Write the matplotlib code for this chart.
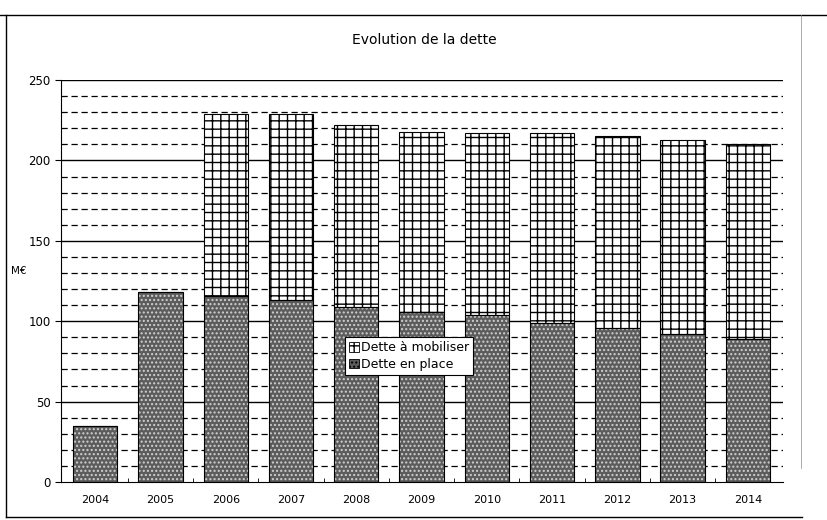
import numpy as np
import matplotlib
matplotlib.use("Agg")
import matplotlib.pyplot as plt
from matplotlib.patches import Rectangle
from matplotlib.lines import Line2D

# data (M€)
years = ["2004", "2005", "2006", "2007", "2008", "2009", "2010", "2011", "2012", "2013", "2014"]
dette_en_place = [35, 118, 116, 113, 109, 106, 104, 99, 96, 92, 89]
dette_totale = [35, 118, 229, 229, 222, 218, 217, 217, 215, 213, 210]
dette_a_mobiliser = [t - p for t, p in zip(dette_totale, dette_en_place)]

plt.rcParams['font.family'] = ['DejaVu Sans']

fig = plt.figure(figsize=(8.27, 5.2), dpi=100)
ax = fig.add_axes([0.074, 0.073, 0.873, 0.773])

x = np.arange(len(years))
w = 0.68

# grid: dashed every 10, solid every 50
for v in range(10, 251, 10):
    if v % 50 == 0:
        ax.axhline(v, color="black", lw=1.0, zorder=0)
    else:
        ax.axhline(v, color="black", lw=0.9, ls=(0, (5, 3)), zorder=0)

# bottom segment: speckled grey
ax.bar(x, dette_en_place, w, color="#5c5c5c", edgecolor="#d0d0d0",
       hatch="....", lw=0, zorder=2)
ax.bar(x, dette_en_place, w, fill=False, edgecolor="black", lw=0.8, zorder=3)

# top segment: grid pattern
ax.bar(x, dette_a_mobiliser, w, bottom=dette_en_place, color="white",
       edgecolor="black", hatch="++", lw=0.8, zorder=2)

ax.set_xlim(-0.52, len(years) - 0.46)
ax.set_ylim(0, 250)
ax.set_yticks(range(0, 251, 50))
ax.set_xticks(x)
ax.set_xticklabels(years, fontsize=8)
ax.set_xticks(x[:-1] + 0.5, minor=True)
ax.tick_params(axis="x", which="major", length=0, pad=9)
ax.tick_params(axis="x", which="minor", length=3, direction="in")
ax.tick_params(axis="y", labelsize=8.5, length=4, direction="out")
ax.spines["right"].set_visible(False)
ax.spines["top"].set_visible(False)

fig.text(0.513, 0.923, "Evolution de la dette", ha="center", va="center", fontsize=10)
fig.text(0.013, 0.478, "M€", ha="left", va="center", fontsize=7.5)

# legend
h1 = Rectangle((0, 0), 1, 1, facecolor="white", edgecolor="black", hatch="++", lw=0.6)
h2 = Rectangle((0, 0), 1, 1, facecolor="#5c5c5c", edgecolor="black", hatch="....", lw=0.6)
leg = ax.legend([h1, h2], ["Dette à mobiliser", "Dette en place"],
                loc="upper left", bbox_to_anchor=(0.393, 0.36),
                fontsize=9, frameon=True, fancybox=False, framealpha=1,
                edgecolor="black", borderpad=0.3, handlelength=0.8,
                handleheight=0.8, handletextpad=0.2, labelspacing=0.3,
                borderaxespad=0)
leg.get_frame().set_linewidth(0.8)
leg.set_zorder(5)

# scanned page frame
fig.add_artist(Line2D([0.0, 1.0], [0.971, 0.971], color="black", lw=1.0))
fig.add_artist(Line2D([0.007, 0.007], [0.006, 0.971], color="black", lw=1.0))
fig.add_artist(Line2D([0.007, 0.97], [0.006, 0.006], color="black", lw=1.0))
fig.add_artist(Line2D([0.968, 0.968], [0.1, 0.971], color="#888888", lw=0.5))

fig.savefig("out.png", dpi=100)
